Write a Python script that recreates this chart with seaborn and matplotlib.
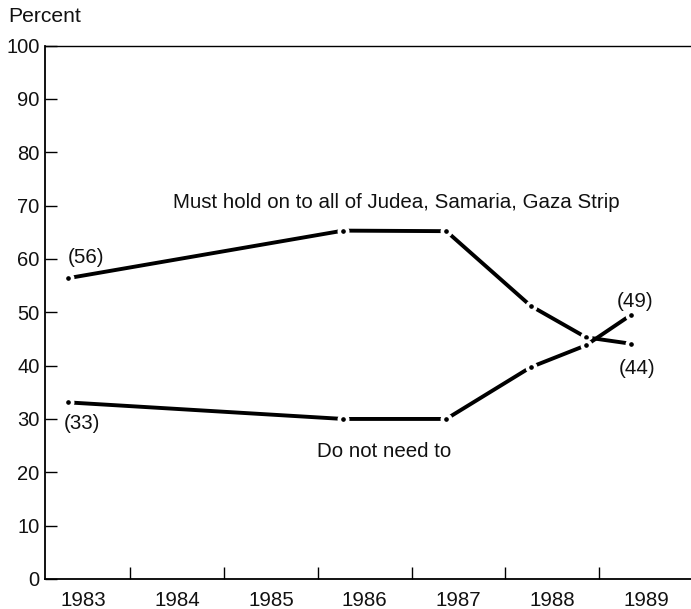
import matplotlib
matplotlib.use("Agg")
import matplotlib.pyplot as plt
import seaborn as sns
import pandas as pd

# Data (survey dates as fractional years)
dates = [1983.34, 1986.27, 1987.37, 1988.27, 1988.86, 1989.34]
must_hold = [56.4, 65.3, 65.2, 51.2, 45.3, 44.1]
do_not_need = [33.1, 30.0, 30.0, 39.7, 43.8, 49.5]
year_labels = ["1983", "1984", "1985", "1986", "1987", "1988", "1989"]
y_ticks = [0, 10, 20, 30, 40, 50, 60, 70, 80, 90, 100]

sns.set_style("ticks")
plt.rcParams['font.family'] = ['Liberation Sans', 'DejaVu Sans']

fig = plt.figure(figsize=(6.91, 6.09), dpi=100)
ax = fig.add_axes([45/691, 30/609, 646/691, 533.5/609])

df = pd.DataFrame({
    "date": dates * 2,
    "value": must_hold + do_not_need,
    "series": ["Must hold"] * len(dates) + ["Do not need"] * len(dates),
})
sns.lineplot(data=df, x="date", y="value", hue="series",
             palette={"Must hold": "black", "Do not need": "black"},
             marker="o", markersize=6.0, markeredgecolor="white",
             markeredgewidth=2.6, linewidth=2.8, legend=False, ax=ax,
             estimator=None, sort=False)

ax.set_xlim(1983.09, 1989.98)
ax.set_ylim(0, 100)

# x ticks: boundaries (marks) and centers (labels)
ax.set_xticks([1984, 1985, 1986, 1987, 1988, 1989])
ax.set_xticklabels([])
ax.set_xticks([1983.5 + i for i in range(len(year_labels))], minor=True)
ax.set_xticklabels(year_labels, minor=True)
ax.tick_params(axis="x", which="major", direction="in", length=8.5, width=1.0, color="black")
ax.tick_params(axis="x", which="minor", length=0, pad=8.5, labelsize=14.8, labelcolor="#111111")

ax.set_yticks(y_ticks)
ax.set_yticklabels([str(v) for v in y_ticks])
ax.tick_params(axis="y", direction="in", length=8.5, width=1.0, pad=4,
               labelsize=14.5, labelcolor="#111111", color="black")

ax.set_xlabel("")
ax.set_ylabel("")
for s in ["left", "bottom"]:
    ax.spines[s].set_linewidth(1.3)
    ax.spines[s].set_color("black")
ax.spines["top"].set_linewidth(1.0)
ax.spines["top"].set_color("black")
ax.spines["right"].set_visible(False)

fs = 14.8
ax.text(1984.46, 70.5, "Must hold on to all of Judea, Samaria, Gaza Strip",
        fontsize=fs, va="center", ha="left", color="#111111")
ax.text(1986.71, 23.9, "Do not need to", fontsize=fs, va="center", ha="center", color="#111111")
ax.text(1983.33, 60.3, "(56)", fontsize=fs, va="center", ha="left", color="#111111")
ax.text(1983.285, 29.1, "(33)", fontsize=fs, va="center", ha="left", color="#111111")
ax.text(1989.38, 52.0, "(49)", fontsize=fs, va="center", ha="center", color="#111111")
ax.text(1989.40, 39.5, "(44)", fontsize=fs, va="center", ha="center", color="#111111")

fig.text(8/691, 1 - 17/609, "Percent", fontsize=15.2, va="center", ha="left", color="#111111")

fig.savefig("out.png", dpi=100)
